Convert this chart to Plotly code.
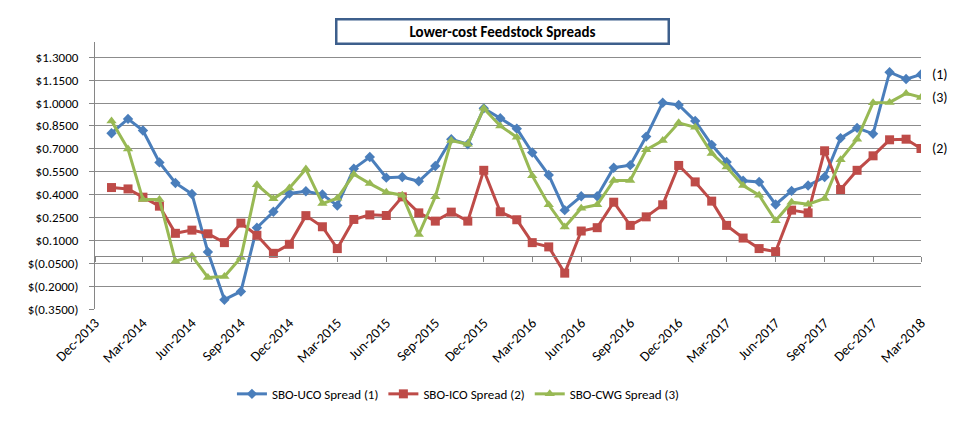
import plotly.graph_objects as go
import pandas as pd

months = pd.date_range("2014-01-01", "2018-03-01", freq="MS")

uco = [0.802, 0.896, 0.820, 0.611, 0.476, 0.404, 0.024, -0.289, -0.235, 0.183, 0.287, 0.407, 0.422,
       0.400, 0.328, 0.570, 0.646, 0.511, 0.515, 0.487, 0.587, 0.763, 0.730, 0.965, 0.900,
       0.832, 0.676, 0.528, 0.298, 0.389, 0.389, 0.576, 0.593, 0.780, 1.002, 0.987, 0.883,
       0.726, 0.613, 0.491, 0.483, 0.335, 0.424, 0.459, 0.515, 0.770, 0.837, 0.798, 1.202,
       1.157, 1.187]
ico = [0.446, 0.437, 0.383, 0.324, 0.146, 0.167, 0.143, 0.085, 0.213, 0.133, 0.015, 0.074, 0.262,
       0.189, 0.046, 0.237, 0.267, 0.263, 0.385, 0.280, 0.226, 0.285, 0.226, 0.559, 0.287,
       0.235, 0.085, 0.057, -0.115, 0.161, 0.183, 0.350, 0.198, 0.254, 0.333, 0.591, 0.483,
       0.357, 0.198, 0.115, 0.046, 0.026, 0.298, 0.280, 0.687, 0.433, 0.559, 0.654, 0.759,
       0.763, 0.702]
cwg = [0.883, 0.698, 0.367, 0.367, -0.037, -0.002, -0.143, -0.137, -0.013, 0.465, 0.372, 0.443, 0.567,
       0.341, 0.376, 0.533, 0.472, 0.415, 0.396, 0.139, 0.385, 0.754, 0.730, 0.965, 0.850,
       0.776, 0.524, 0.333, 0.187, 0.311, 0.333, 0.493, 0.493, 0.693, 0.754, 0.870, 0.841,
       0.670, 0.580, 0.459, 0.396, 0.228, 0.350, 0.337, 0.374, 0.628, 0.763, 1.002, 1.004,
       1.063, 1.037]

series_names = ["SBO-UCO Spread (1)", "SBO-ICO Spread (2)", "SBO-CWG Spread (3)"]
end_labels = ["(1)", "(2)", "(3)"]
colors = ["#4A7EBB", "#BE4B48", "#98B954"]
symbols = ["diamond", "square", "triangle-up"]
msizes = [8, 9, 9]

y_ticks = [-0.35 + 0.15 * k for k in range(12)]
def fmt(v):
    v = round(v, 4)
    return "$(%.4f)" % abs(v) if v < 0 else "$%.4f" % v
y_text = [fmt(v) for v in y_ticks]

y_min, y_max = -0.35, 1.40
FONT = "Carlito, Calibri, Lato, sans-serif"

fig = go.Figure()
for vals, name, c, s, ms in zip([uco, ico, cwg], series_names, colors, symbols, msizes):
    fig.add_trace(go.Scatter(x=months, y=vals, name=name, mode="lines+markers",
                             line=dict(color=c, width=3),
                             marker=dict(symbol=s, size=ms, color=c)))

# invisible trace to carry the zero-crossing category axis
fig.add_trace(go.Scatter(x=[months[0], months[-1]], y=[None, None], xaxis="x2",
                         showlegend=False, hoverinfo="skip", mode="lines"))

for vals, lab in zip([uco, ico, cwg], end_labels):
    fig.add_annotation(x=months[-1], y=vals[-1], text=lab, showarrow=False,
                       xanchor="left", xshift=9, font=dict(size=14, color="#000", family=FONT))

fig.add_annotation(xref="paper", yref="paper", x=0.493, y=1.039, text="<b>Lower-cost Feedstock Spreads</b>",
                   showarrow=False, xanchor="center", yanchor="middle",
                   width=328, height=20, bordercolor="#3D5F8C", borderwidth=2.5, borderpad=1,
                   bgcolor="white", font=dict(size=15, color="#000", family=FONT))

x_range = ["2013-12-01", "2018-03-01"]
zero_pos = (0 - y_min) / (y_max - y_min)

fig.update_layout(
    width=970, height=423,
    margin=dict(l=95, r=49, t=42, b=114),
    paper_bgcolor="white", plot_bgcolor="white",
    font=dict(family=FONT, size=11, color="#000"),
    showlegend=True,
    legend=dict(orientation="h", x=0.44, y=-0.318, xanchor="center", yanchor="middle",
                font=dict(size=13, family=FONT), itemwidth=30, tracegroupgap=0),
    xaxis=dict(type="date", range=x_range, dtick="M3", tick0="2013-12-01", tickformat="%b-%Y",
               tickangle=-45, showgrid=False, showline=False, ticks="", zeroline=False,
               tickfont=dict(size=14), ticklabelstandoff=2),
    xaxis2=dict(type="date", range=x_range, dtick="M3", tick0="2013-12-01", overlaying="x",
                anchor="free", position=zero_pos, showticklabels=False, showgrid=False,
                showline=True, linecolor="#868686", linewidth=1, ticks="outside", ticklen=5,
                tickcolor="#868686", zeroline=False),
    yaxis=dict(range=[y_min, y_max], tickvals=y_ticks, ticktext=y_text, showgrid=True,
               gridcolor="#8C8C8C", gridwidth=1, showline=True, linecolor="#868686",
               ticks="outside", ticklen=5, tickcolor="#868686", zeroline=False,
               tickfont=dict(size=13), ticklabelstandoff=8),
)

fig.write_html("out.html")
